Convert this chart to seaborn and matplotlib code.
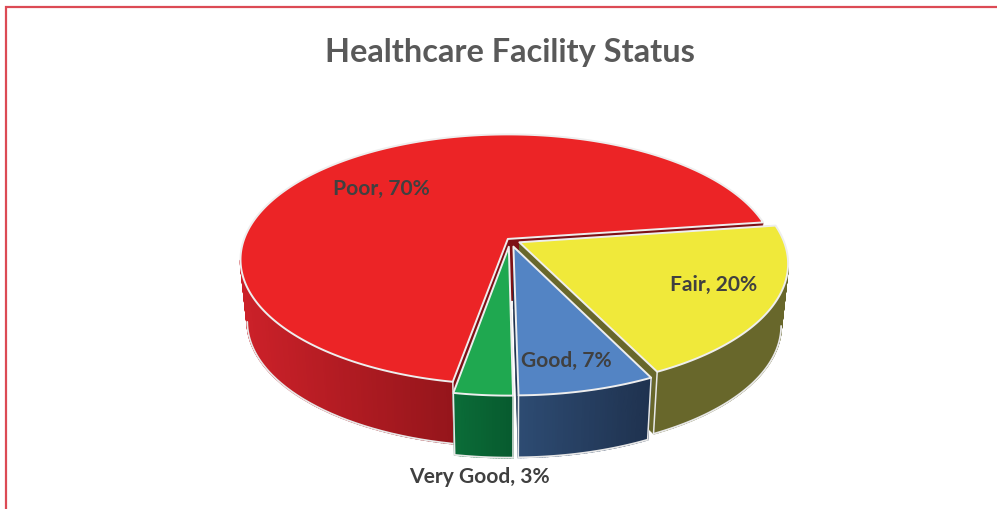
# Healthcare facility status - tilted 3D pie

# imports
import numpy as np
import matplotlib
matplotlib.use('Agg')
import matplotlib.pyplot as plt
import seaborn as sns

# data, in drawing order (counter clockwise from the start angle)
categories = ['Poor', 'Very Good', 'Good', 'Fair']
percents = [70, 3, 7, 20]
title = 'Healthcare Facility Status'

# looks
top_colors = ['#EC2426', '#1FA850', '#5384C4', '#F0E93A']
side_left = ['#CC2129', '#0B6C38', '#2D4B72', '#68672B']
side_right = ['#94151B', '#075A2E', '#1F324F', '#68672B']
wall_colors = ['#7E1015', '#075A2E', '#1F324F', '#68672B']
explode = [0.012, 0.055, 0.055, 0.04]
label_pos = [(381, 189), (479, 477), (566, 361), (714, 285)]

START_ANGLE = 8
CX, CY = 510, 240
RX, RY = 264, 122
TILT = 0.164
DEPTH = 62
BOTTOM_SCALE = 0.975  # lower rim is a bit narrower than the top


def project(u, v):
    '''
    Takes points on the unit disc and returns them in pixel coords,
    far side is squeezed so the pie looks like it is seen in perspective.
    '''
    w = 1 + TILT * v
    return CX + RX * u / w, CY - RY * v / w


def lower(x, y):
    '''
    Drops a point of the top face down to the bottom of the pie.
    '''
    return CX + (x - CX) * BOTTOM_SCALE, y + DEPTH


def draw_slice(ax, start, end, off, top, left, right, wall):
    '''
    Draws one exploded slice: inner walls, outer rim and the top face.
    '''
    mid = np.radians((start + end) / 2)
    ou, ov = off * np.cos(mid), off * np.sin(mid)
    t = np.radians(np.linspace(start, end, int(end - start) * 2 + 2))
    x, y = project(ou + np.cos(t), ov + np.sin(t))
    xb, yb = lower(x, y)
    ax0, ay0 = project(ou, ov)
    axb, ayb = lower(ax0, ay0)

    # the rim only shows from the widest point (sin = -TILT) round the front
    near = np.sin(t) < -TILT

    # inner walls
    for ex, ey, fx, fy in [(x[0], y[0], xb[0], yb[0]), (x[-1], y[-1], xb[-1], yb[-1])]:
        ax.fill([ax0, ex, fx, axb], [ay0, ey, fy, ayb], color=wall, lw=0.5, zorder=2)

    # outer rim, shaded left to right
    shades = sns.blend_palette([left, right], 64)
    x_lo, x_hi = x[near].min(), x[near].max()
    for i in np.where(near[:-1] & near[1:])[0]:
        pos = np.clip((x[i] - x_lo) / max(x_hi - x_lo, 1), 0, 1)
        col = shades[int(pos * 63)]
        ax.fill([x[i], x[i + 1], xb[i + 1], xb[i]], [y[i], y[i + 1], yb[i + 1], yb[i]],
                color=col, lw=1.2, zorder=2)

    # pale line around the lower rim and the cut edges we can see
    ax.plot(xb[near], yb[near], color='#E8E8E8', lw=1.3, zorder=2)
    for j in [0, -1]:
        if near[j]:
            ax.plot([x[j], xb[j]], [y[j], yb[j]], color='#E8E8E8', lw=1.1, zorder=2)

    # top face
    ax.fill(np.r_[ax0, x], np.r_[ay0, y], facecolor=top, edgecolor='#EEEEEE',
            lw=1.4, joinstyle='round', zorder=3)


sns.set_theme(style='white')
plt.rcParams['font.family'] = ['Lato', 'DejaVu Sans']

fig = plt.figure(figsize=(9.97, 5.09), dpi=100)
ax = fig.add_axes([0, 0, 1, 1])
ax.set_xlim(0, 997)
ax.set_ylim(509, 0)
ax.axis('off')

# chart area border, only top and left are in frame
ax.plot([6, 6, 997], [509, 7, 7], color='#DC4A55', lw=1.6, solid_joinstyle='miter')

# slice angles come from the percents
edges = START_ANGLE + np.cumsum([0] + percents) * 3.6

# back to front so nearer slices cover the walls of the others
for i in [0, 3, 2, 1]:
    draw_slice(ax, edges[i], edges[i + 1], explode[i], top_colors[i],
               side_left[i], side_right[i], wall_colors[i])

ax.text(510, 52, title, ha='center', va='center', fontsize=23.4, fontweight='bold',
        color='#595959', zorder=5)

for name, pct, (lx, ly) in zip(categories, percents, label_pos):
    ax.text(lx, ly, f'{name}, {pct}%', ha='center', va='center', fontsize=15.1,
            fontweight='bold', color='#404040', zorder=5)

fig.savefig('out.png', dpi=100, facecolor='white')
